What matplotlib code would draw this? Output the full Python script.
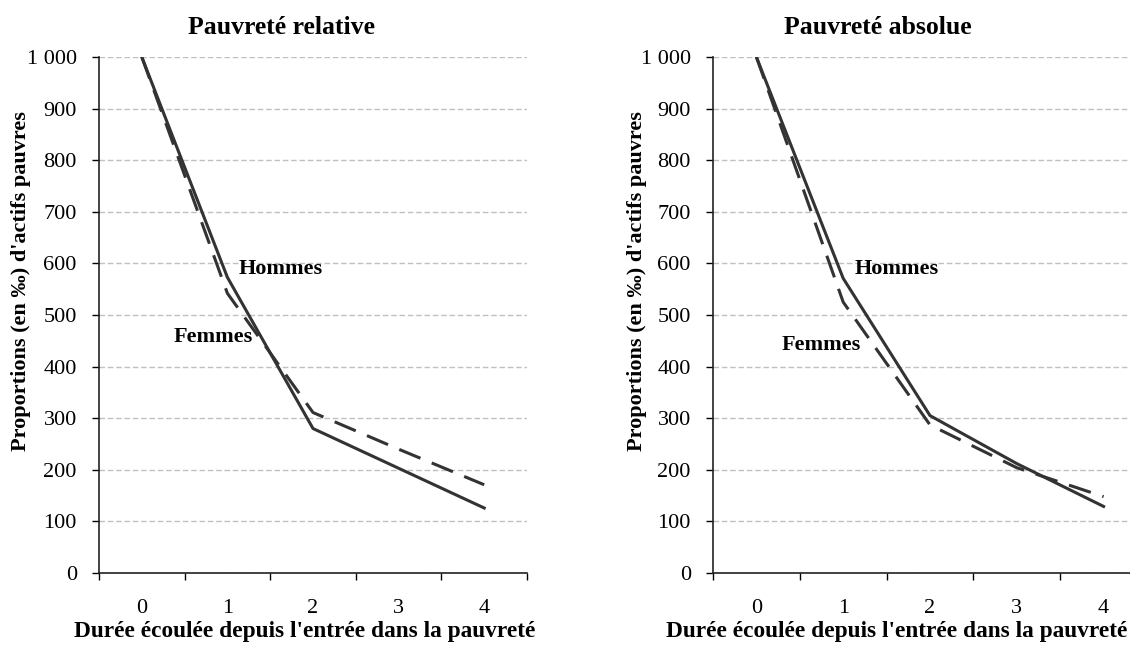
import matplotlib
matplotlib.use('Agg')
import matplotlib.pyplot as plt
import numpy as np

plt.rcParams['font.family'] = ['Liberation Serif', 'DejaVu Serif']

durees = [0, 1, 2, 3, 4]
duree_labels = ['0', '1', '2', '3', '4']

rel_hommes = [1000, 573, 280, 203, 126]
rel_femmes = [1000, 542, 311, 240, 171]
abs_hommes = [1000, 571, 305, 212, 129]
abs_femmes = [1000, 525, 287, 204, 148]

y_ticks = [0, 100, 200, 300, 400, 500, 600, 700, 800, 900, 1000]
y_labels = ['0', '100', '200', '300', '400', '500', '600', '700', '800', '900', '1 000']

titles = ['Pauvreté relative', 'Pauvreté absolue']
xlab = "Durée écoulée depuis l'entrée dans la pauvreté"
ylab = "Proportions (en ‰) d'actifs pauvres"

line_col = '#333333'

fig = plt.figure(figsize=(11.3, 6.45), dpi=100)

def draw(ax, hommes, femmes, pos_h, pos_f):
    x = np.array(durees)
    ax.plot(x, hommes, color=line_col, lw=2.2, zorder=3)
    ax.plot(x, femmes, color=line_col, lw=2.2, dashes=(7.5, 4), zorder=3)
    ax.set_xlim(-0.5, 4.5)
    ax.set_ylim(0, 1000)
    ax.set_yticks(y_ticks)
    ax.set_yticklabels(y_labels, fontsize=16)
    ax.yaxis.grid(True, color='#c0c0c0', linestyle=(0, (4, 2)), lw=1.0)
    ax.set_axisbelow(True)
    # axe de catégories : graduations aux bornes, libellés au centre
    ax.set_xticks(np.arange(-0.5, 5.0, 1.0))
    ax.set_xticklabels([])
    ax.set_xticks(x, minor=True)
    ax.set_xticklabels(duree_labels, minor=True, fontsize=16)
    ax.tick_params(axis='x', which='minor', length=0, pad=19)
    ax.tick_params(axis='x', which='major', direction='out', length=5, width=1)
    ax.tick_params(axis='y', direction='out', length=5, width=1, pad=11)
    for s in ['top', 'right']:
        ax.spines[s].set_visible(False)
    for s in ['left', 'bottom']:
        ax.spines[s].set_color('#222222')
        ax.spines[s].set_linewidth(1.2)
    ax.text(pos_h[0], pos_h[1], 'Hommes', fontsize=16, fontweight='bold', ha='center', va='center')
    ax.text(pos_f[0], pos_f[1], 'Femmes', fontsize=16, fontweight='bold', ha='center', va='center')

ax1 = fig.add_axes([99/1130, 1-573/645, 428/1130, 516/645])
draw(ax1, rel_hommes, rel_femmes, (1.62, 590), (0.84, 458))
ax2 = fig.add_axes([713/1130, 1-573/645, 434/1130, 516/645])
draw(ax2, abs_hommes, abs_femmes, (1.62, 590), (0.75, 442))

fig.text(281/1130, 1-27/645, titles[0], fontsize=18.5, fontweight='bold', ha='center', va='center')
fig.text(878/1130, 1-27/645, titles[1], fontsize=18.5, fontweight='bold', ha='center', va='center')
fig.text(305/1130, 1-632/645, xlab, fontsize=16.8, fontweight='bold', ha='center', va='center')
fig.text(1127/1130, 1-632/645, xlab, fontsize=16.8, fontweight='bold', ha='right', va='center')
fig.text(21/1130, 1-281/645, ylab, fontsize=16, fontweight='bold', ha='center', va='center', rotation=90)
fig.text(637/1130, 1-281/645, ylab, fontsize=16, fontweight='bold', ha='center', va='center', rotation=90)

fig.savefig('out.png', dpi=100)
